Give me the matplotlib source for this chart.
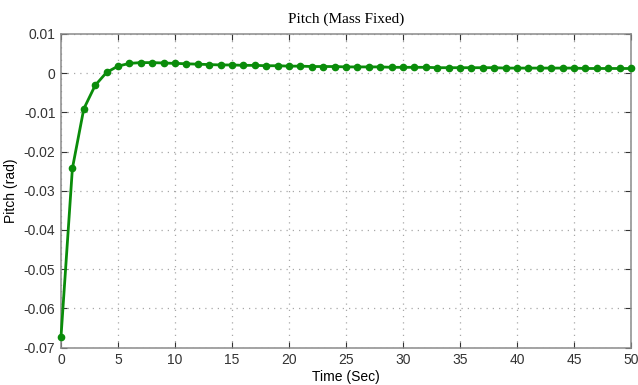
import numpy as np
from matplotlib import pyplot as plt

# Pitch response, one sample per second
time_sec = list(range(51))
pitch_rad = [
    -0.0673, -0.0243, -0.0091, -0.0031, 0.0002, 0.0018, 0.0025, 0.0027, 0.0027, 0.0026,
    0.0025, 0.0024, 0.0023, 0.0022, 0.0021, 0.0021, 0.0020, 0.0020, 0.0019, 0.0019,
    0.0018, 0.0018, 0.0017, 0.0017, 0.0017, 0.0016, 0.0016, 0.0016, 0.0016, 0.0015,
    0.0015, 0.0015, 0.0015, 0.0014, 0.0014, 0.0014, 0.0014, 0.0014, 0.0014, 0.0013,
    0.0013, 0.0013, 0.0013, 0.0013, 0.0013, 0.0013, 0.0012, 0.0012, 0.0012, 0.0012,
    0.0012,
]
x_ticks = [0, 5, 10, 15, 20, 25, 30, 35, 40, 45, 50]
y_ticks = [-0.07, -0.06, -0.05, -0.04, -0.03, -0.02, -0.01, 0, 0.01]
y_tick_labels = ['-0.07', '-0.06', '-0.05', '-0.04', '-0.03', '-0.02', '-0.01', '0', '0.01']

plt.rcParams['font.family'] = ['Liberation Sans', 'DejaVu Sans']

fig = plt.figure(figsize=(6.38, 3.85), dpi=100)
ax = fig.add_axes([0.0956, 0.0974, 0.8934, 0.8143])

ax.plot(time_sec, pitch_rad, color='#0a8c0a', linewidth=2.0, clip_on=False, zorder=3,
        marker='o', markersize=4.5, markerfacecolor='#0a8c0a', markeredgecolor='#0a8c0a')

ax.set_xlim(0, 50)
ax.set_ylim(-0.07, 0.01)
ax.set_xticks(x_ticks)
ax.set_yticks(y_ticks)
ax.set_yticklabels(y_tick_labels)

ax.grid(True, linestyle=(0, (1, 4)), color='#a8a8a8', linewidth=0.9)
ax.tick_params(direction='in', length=4, width=0.8, labelsize=10, colors='#333333',
               top=True, right=True, pad=4)
for side in ax.spines.values():
    side.set_color('#8a8a8a')
    side.set_linewidth(1.1)

ax.set_xlabel('Time (Sec)', fontsize=10, labelpad=2)
ax.set_ylabel('Pitch (rad)', fontsize=10, labelpad=4)
ax.set_title('Pitch (Mass Fixed)', fontsize=11, family='Liberation Serif', pad=8)

fig.savefig('out.png', dpi=100)
